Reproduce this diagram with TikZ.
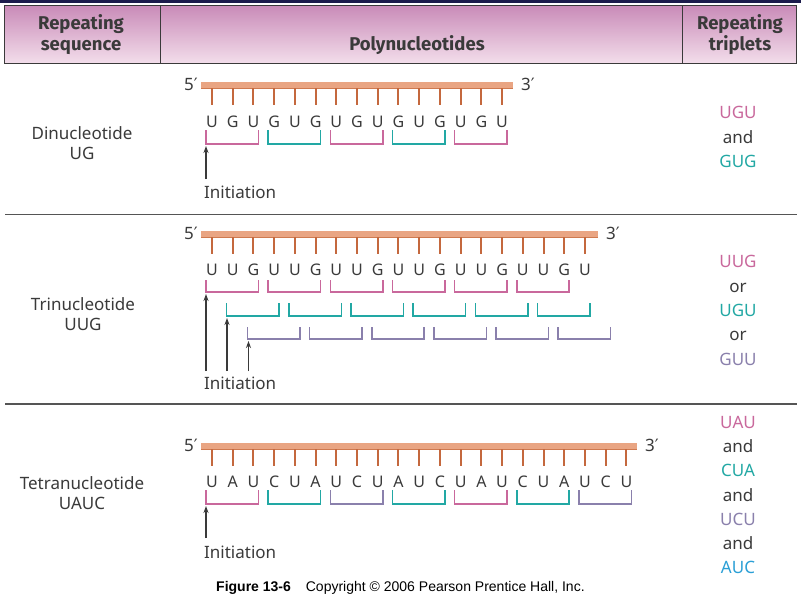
\documentclass[tikz,border=0pt]{standalone}
\usepackage{fontspec}
\setmainfont{Noto Sans}
\newfontfamily\hdrfont{Fira Sans}
\newfontfamily\primefont{DejaVu Sans}
\newfontfamily\arialfont{Liberation Sans}
\usetikzlibrary{arrows.meta}
\definecolor{txt}{HTML}{3A3A3A}
\definecolor{bar}{HTML}{E9A583}
\definecolor{bardark}{HTML}{CF7A50}
\definecolor{tick}{HTML}{C4683E}
\definecolor{pinkc}{HTML}{C9689C}
\definecolor{tealc}{HTML}{22A8A4}
\definecolor{purc}{HTML}{8A80AC}
\definecolor{bluec}{HTML}{2A9FD6}
\definecolor{hdrtop}{HTML}{C98BB8}
\definecolor{hdrbot}{HTML}{F3DEEB}
\definecolor{navy}{HTML}{1C1C4C}
\definecolor{rule}{HTML}{555555}
\tikzset{
  lbl/.style={inner sep=0pt, text=txt, align=center, font=\fontsize{17}{20.5}\selectfont},
  hdr/.style={inner sep=0pt, text=txt, align=center, font=\hdrfont\fontsize{18.5}{21}\selectfont\bfseries},
  base/.style={inner sep=0pt, text=txt, font=\fontsize{17}{20}\selectfont},
  seq/.style={inner sep=0pt, text=txt, font=\fontsize{16}{18}\selectfont},
  tri/.style={inner sep=0pt, align=center, font=\fontsize{17}{24.3}\selectfont},
  tickln/.style={draw=tick, line width=2pt},
  brk/.style={line width=1.5pt},
  initarrow/.style={draw=txt, line width=1.3pt, -{Stealth[length=7pt,width=5pt]}},
  divline/.style={draw=rule, line width=1.3pt},
}
\newcommand{\strand}[3]{% #1 y of bar, #2 right end x, #3 name
  \fill[bar] (201,#1-3.5) rectangle (#2,#1+3.5);
  \draw[bardark, line width=1pt] (201,#1+3.2) -- (#2,#1+3.2);
  \node[base, anchor=east] (#3five) at (198,#1-1) {5{\primefont′}};
  \node[base, anchor=west] (#3three) at (#2+8,#1-1) {3{\primefont′}};
}
\begin{document}
\begin{tikzpicture}[x=1pt,y=-1pt]
\useasboundingbox (0,0) rectangle (801,600);
\fill[white] (0,0) rectangle (801,600);
\fill[navy] (0,0) rectangle (801,2.5);
% header
\shade[top color=hdrtop, bottom color=hdrbot] (4.5,5.5) rectangle (796.5,63.5);
\draw[draw=txt, line width=1.5pt] (4.5,5.5) rectangle (796.5,63.5);
\draw[draw=txt, line width=1.5pt] (160.5,5.5) -- (160.5,63.5);
\draw[draw=txt, line width=1.5pt] (682.5,5.5) -- (682.5,63.5);
\node[hdr] (h1) at (81,34.5) {Repeating\\sequence};
\node[hdr] (h2) at (417,45) {Polynucleotides};
\node[hdr] (h3) at (740,34.5) {Repeating\\triplets};
% dividers
\draw[divline] (5,214.5) -- (797,214.5);
\draw[divline] (5,404) -- (797,404);
% left column
\node[lbl] (n1) at (82,143) {Dinucleotide\\UG};
\node[lbl] (n2) at (83,314) {Trinucleotide\\UUG};
\node[lbl] (n3) at (82,493) {Tetranucleotide\\UAUC};
% right column
\node[tri] (r1) at (738,137) {\color{pinkc}UGU\\\color{txt}and\\\color{tealc}GUG};
\node[tri] (r2) at (738,310.5) {\color{pinkc}UUG\\\color{txt}or\\\color{tealc}UGU\\\color{txt}or\\\color{purc}GUU};
\node[tri] (r3) at (738,495) {\color{pinkc}UAU\\\color{txt}and\\\color{tealc}CUA\\\color{txt}and\\\color{purc}UCU\\\color{txt}and\\\color{bluec}AUC};
% ---------- section 1 ----------
\strand{85}{513}{a}
\foreach \c [count=\i] in {U,G,U,G,U,G,U,G,U,G,U,G,U,G,U}{
  \pgfmathsetmacro{\xx}{212+(\i-1)*20.72}
  \draw[tickln] (\xx,88) -- (\xx,105);
  \node[seq] (a\i) at (\xx,122) {\c};
}
\foreach \s/\col in {1/pinkc,4/tealc,7/pinkc,10/tealc,13/pinkc}{
  \pgfmathsetmacro{\xa}{212+(\s-1)*20.72-6}
  \pgfmathsetmacro{\xb}{212+(\s+1)*20.72+5}
  \draw[brk, draw=\col] (\xa,130) -- (\xa,144) -- (\xb,144) -- (\xb,130);
}
\node[base, anchor=west] (ai) at (204,192) {Initiation};
\coordinate (at) at (206,146);
\draw[initarrow] (206,179) -- (at);
% ---------- section 2 ----------
\strand{234}{598}{b}
\foreach \c [count=\i] in {U,U,G,U,U,G,U,U,G,U,U,G,U,U,G,U,U,G,U}{
  \pgfmathsetmacro{\xx}{212+(\i-1)*20.72}
  \draw[tickln] (\xx,237) -- (\xx,254);
  \node[seq] (b\i) at (\xx,270) {\c};
}
\foreach \k in {0,...,5}{
  \pgfmathsetmacro{\xa}{212+(3*\k)*20.72-6}
  \pgfmathsetmacro{\xb}{212+(3*\k+2)*20.72+5}
  \draw[brk, draw=pinkc] (\xa,280) -- (\xa,292) -- (\xb,292) -- (\xb,280);
  \pgfmathsetmacro{\xc}{212+(3*\k+1)*20.72-6}
  \pgfmathsetmacro{\xd}{212+(3*\k+3)*20.72+5}
  \draw[brk, draw=tealc] (\xc,303) -- (\xc,316) -- (\xd,316) -- (\xd,303);
  \pgfmathsetmacro{\xe}{212+(3*\k+2)*20.72-6}
  \pgfmathsetmacro{\xf}{212+(3*\k+4)*20.72+5}
  \draw[brk, draw=purc] (\xe,327) -- (\xe,339) -- (\xf,339) -- (\xf,327);
}
\node[base, anchor=west] (bi) at (204,383) {Initiation};
\coordinate (bt1) at (206,294);
\coordinate (bt2) at (227,318);
\coordinate (bt3) at (248.5,341);
\draw[initarrow] (206,371) -- (bt1);
\draw[initarrow] (227,371) -- (bt2);
\draw[initarrow] (248.5,371) -- (bt3);
% ---------- section 3 ----------
\strand{446}{637}{c}
\foreach \c [count=\i] in {U,A,U,C,U,A,U,C,U,A,U,C,U,A,U,C,U,A,U,C,U}{
  \pgfmathsetmacro{\xx}{212+(\i-1)*20.72}
  \draw[tickln] (\xx,449) -- (\xx,466);
  \node[seq] (c\i) at (\xx,482) {\c};
}
\foreach \s/\col in {1/pinkc,4/tealc,7/purc,10/tealc,13/pinkc,16/tealc,19/purc}{
  \pgfmathsetmacro{\xa}{212+(\s-1)*20.72-6}
  \pgfmathsetmacro{\xb}{212+(\s+1)*20.72+5}
  \draw[brk, draw=\col] (\xa,490) -- (\xa,504) -- (\xb,504) -- (\xb,490);
}
\node[base, anchor=west] (ci) at (204,552) {Initiation};
\coordinate (ct) at (206,506);
\draw[initarrow] (206,538) -- (ct);
% footer
\node[inner sep=0pt, anchor=west, text=black, font=\arialfont\fontsize{14}{16}\selectfont] (fig) at (216,588) {\textbf{Figure 13-6}\hspace{15pt}Copyright © 2006 Pearson Prentice Hall, Inc.};
\end{tikzpicture}
\end{document}
